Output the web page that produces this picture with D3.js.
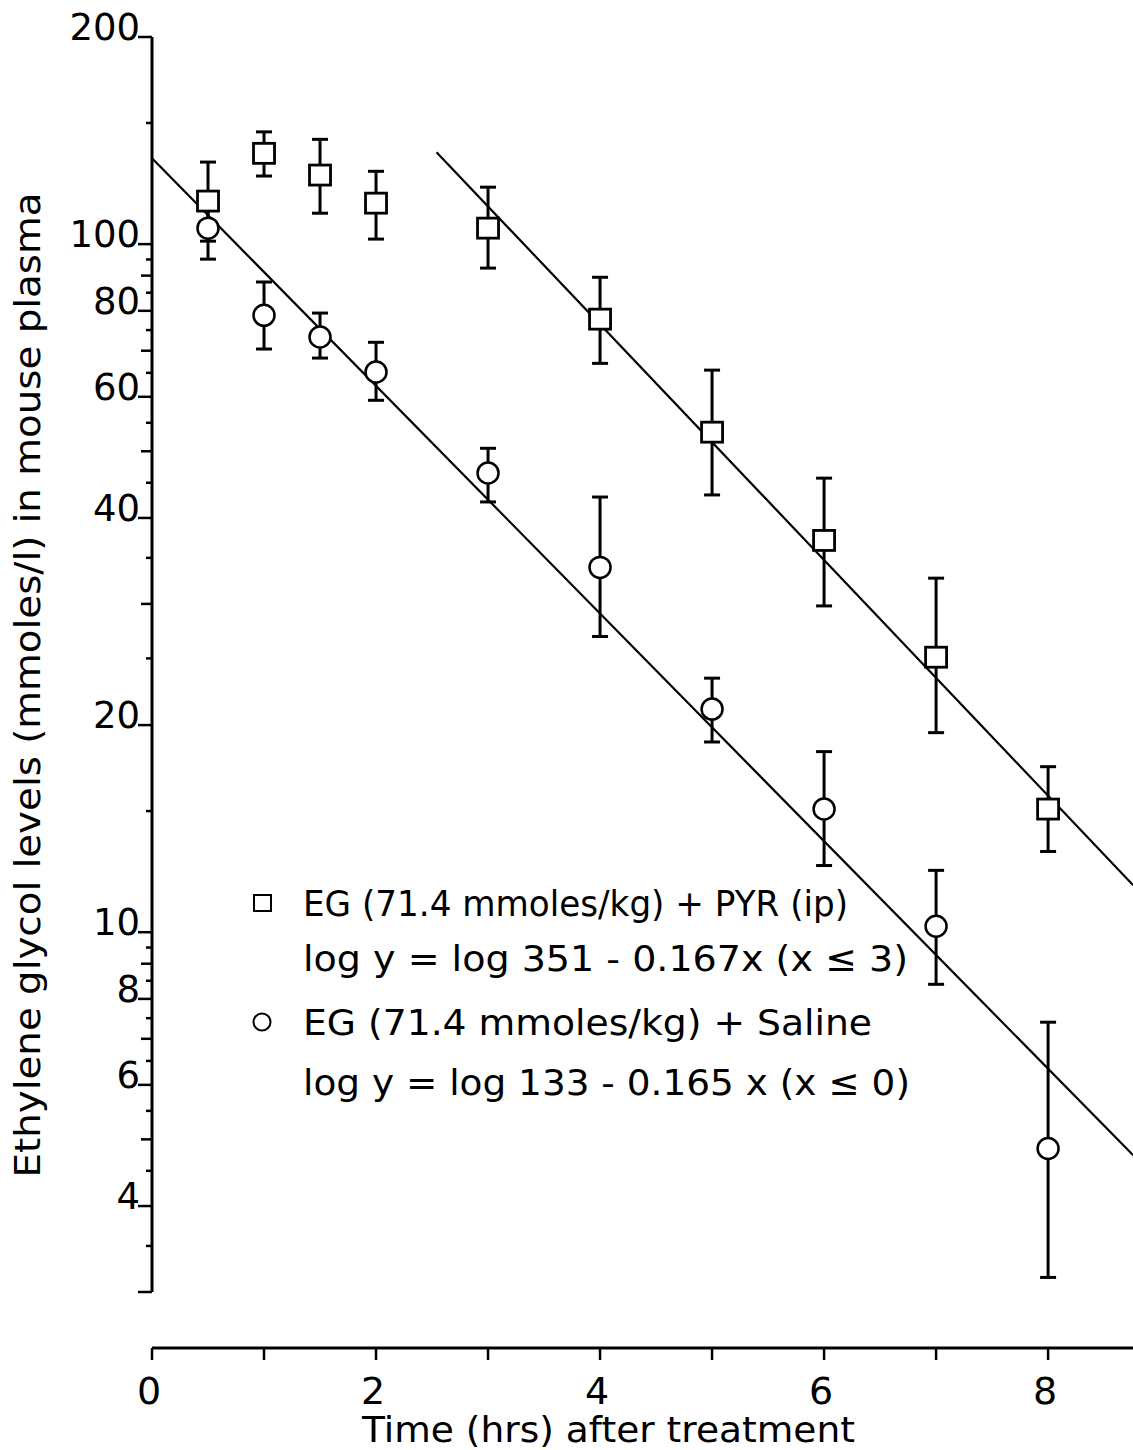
<!DOCTYPE html>
<html>
<head>
<meta charset="utf-8">
<script src="https://cdn.jsdelivr.net/npm/d3@7"></script>
<style>
  body { margin: 0; background: #fff; }
  svg text { font-family: "DejaVu Sans", "Liberation Sans", sans-serif; fill: #000; }
</style>
</head>
<body>
<div id="chart"></div>
<script>
// time points (hrs)
const timeHrs = [0.5, 1, 1.5, 2, 3, 4, 5, 6, 7, 8];

// EG + PYR (ip), squares
const pyrMean  = [115.5, 135.5, 126, 114.7, 105.5, 77.8, 53.3, 37.1, 25.1, 15.1];
const pyrUpper = [131.6, 145.6, 142, 127.6, 121, 89.5, 65.6, 45.7, 32.7, 17.4];
const pyrLower = [101, 125.6, 110.9, 101.7, 92.3, 67.1, 43.2, 29.8, 19.5, 13.1];

// EG + Saline, circles
const salineMean  = [105.5, 78.8, 73.3, 65.2, 46.5, 33.9, 21.1, 15.1, 10.2, 4.85];
const salineUpper = [117, 88.1, 79.4, 72.0, 50.5, 42.9, 23.4, 18.3, 12.3, 7.4];
const salineLower = [95.1, 70.4, 68.3, 59.3, 42.2, 26.9, 18.9, 12.5, 8.4, 3.15];

// fitted lines (end points)
const pyrFitX = [2.54, 8.76];
const pyrFitY = [136, 11.7];
const salineFitX = [0, 8.76];
const salineFitY = [133.3, 4.74];

// axis ticks
const yLabelTicks = [200, 100, 80, 60, 40, 20, 10, 8, 6, 4, 3];
const yLabelText = ['200', '100', '80', '60', '40', '20', '10', '8', '6', '4', ''];
const yMidTicks = [90, 70, 50, 30, 9, 7, 5];
const ySmallTicks = [150, 95, 85, 75, 65, 55, 45, 35, 25, 15, 9.5, 8.5, 7.5, 6.5, 5.5, 4.5, 3.5];
const xTicks = [0, 1, 2, 3, 4, 5, 6, 7, 8];
const xLabels = [0, 2, 4, 6, 8];

const legendRows = [
    { sym: 'square', text: 'EG (71.4 mmoles/kg) + PYR (ip)', len: 545 },
    { sym: null, text: 'log  y = log 351 - 0.167x  (x \u2264 3)', len: 605 },
    { sym: 'circle', text: 'EG (71.4 mmoles/kg) + Saline', len: 569 },
    { sym: null, text: 'log  y = log 133 - 0.165 x  (x \u2264 0)', len: 607 }
];

let svgWidth = 1133;
let svgHeight = 1450;

let svg = d3.select('#chart')
    .append('svg')
    .attr('width', svgWidth)
    .attr('height', svgHeight);

let xScale = d3.scaleLinear().domain([0, 8.758]).range([152, 1133]);
let yScale = d3.scaleLog().domain([3, 200]).range([1292, 37]);
let xAxisY = 1348;

// y axis line and ticks
svg.append('line')
    .attr('x1', 152).attr('x2', 152)
    .attr('y1', yScale(200)).attr('y2', yScale(3))
    .attr('stroke', '#000').attr('stroke-width', 3);

function yTicks(vals, len) {
    svg.selectAll(null)
        .data(vals)
        .enter()
        .append('line')
        .attr('x1', 152 - len).attr('x2', 152)
        .attr('y1', d => yScale(d)).attr('y2', d => yScale(d))
        .attr('stroke', '#000').attr('stroke-width', 2.5);
}
yTicks(yLabelTicks, 14);
yTicks(yMidTicks, 11);
yTicks(ySmallTicks, 6);

svg.selectAll(null)
    .data(yLabelTicks)
    .enter()
    .append('text')
    .attr('x', 140)
    .attr('y', d => yScale(d) + 3)
    .attr('text-anchor', 'end')
    .attr('font-size', 37)
    .text((d, i) => yLabelText[i]);

// y title
svg.append('text')
    .attr('transform', `translate(40, 685) rotate(-90)`)
    .attr('text-anchor', 'middle')
    .attr('font-size', 36)
    .attr('textLength', 985)
    .attr('lengthAdjust', 'spacingAndGlyphs')
    .text('Ethylene  glycol  levels  (mmoles/l)  in  mouse  plasma');

// x axis
svg.append('line')
    .attr('x1', 152).attr('x2', 1133)
    .attr('y1', xAxisY).attr('y2', xAxisY)
    .attr('stroke', '#000').attr('stroke-width', 3);

svg.selectAll(null)
    .data(xTicks)
    .enter()
    .append('line')
    .attr('x1', d => xScale(d)).attr('x2', d => xScale(d))
    .attr('y1', xAxisY).attr('y2', xAxisY + 12)
    .attr('stroke', '#000').attr('stroke-width', 2.5);

svg.selectAll(null)
    .data(xLabels)
    .enter()
    .append('text')
    .attr('x', d => xScale(d) - 3)
    .attr('y', xAxisY + 56)
    .attr('text-anchor', 'middle')
    .attr('font-size', 38)
    .text(d => d);

svg.append('text')
    .attr('x', 362)
    .attr('y', 1442)
    .attr('font-size', 36)
    .attr('textLength', 493)
    .attr('lengthAdjust', 'spacingAndGlyphs')
    .text('Time (hrs)  after  treatment');

// fitted lines
let line = d3.line()
    .x(d => xScale(d[0]))
    .y(d => yScale(d[1]));

svg.append('path')
    .datum(d3.zip(pyrFitX, pyrFitY))
    .attr('d', line)
    .attr('fill', 'none').attr('stroke', '#000').attr('stroke-width', 2.2);

svg.append('path')
    .datum(d3.zip(salineFitX, salineFitY))
    .attr('d', line)
    .attr('fill', 'none').attr('stroke', '#000').attr('stroke-width', 2.2);

// error bars
function errorBars(lower, upper) {
    let g = svg.append('g').attr('stroke', '#000').attr('stroke-width', 3);
    timeHrs.forEach(function (t, i) {
        let cx = xScale(t);
        g.append('line')
            .attr('x1', cx).attr('x2', cx)
            .attr('y1', yScale(upper[i])).attr('y2', yScale(lower[i]));
        [upper[i], lower[i]].forEach(function (v) {
            g.append('line')
                .attr('x1', cx - 8).attr('x2', cx + 8)
                .attr('y1', yScale(v)).attr('y2', yScale(v));
        });
    });
}
errorBars(pyrLower, pyrUpper);
errorBars(salineLower, salineUpper);

// markers
svg.selectAll(null)
    .data(timeHrs)
    .enter()
    .append('rect')
    .attr('x', d => xScale(d) - 10.5)
    .attr('y', (d, i) => yScale(pyrMean[i]) - 10)
    .attr('width', 21)
    .attr('height', 20)
    .attr('fill', '#fff')
    .attr('stroke', '#000')
    .attr('stroke-width', 2.8);

svg.selectAll(null)
    .data(timeHrs)
    .enter()
    .append('circle')
    .attr('cx', d => xScale(d))
    .attr('cy', (d, i) => yScale(salineMean[i]))
    .attr('r', 10.5)
    .attr('fill', '#fff')
    .attr('stroke', '#000')
    .attr('stroke-width', 2.5);

// legend
let legendY = [903, 958, 1022, 1082];
let legend = svg.append('g');
legendRows.forEach(function (row, i) {
    if (row.sym === 'square') {
        legend.append('rect')
            .attr('x', 254).attr('y', legendY[i] - 8)
            .attr('width', 17).attr('height', 16)
            .attr('fill', '#fff').attr('stroke', '#000').attr('stroke-width', 2);
    } else if (row.sym === 'circle') {
        legend.append('circle')
            .attr('cx', 262).attr('cy', legendY[i])
            .attr('r', 8.5)
            .attr('fill', '#fff').attr('stroke', '#000').attr('stroke-width', 2);
    }
    legend.append('text')
        .attr('x', 303)
        .attr('y', legendY[i] + 13)
        .attr('font-size', 36)
        .attr('textLength', row.len)
        .attr('lengthAdjust', 'spacingAndGlyphs')
        .text(row.text);
});
</script>
</body>
</html>
